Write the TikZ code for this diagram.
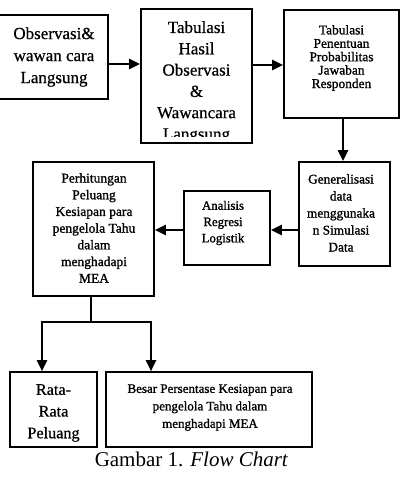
\documentclass[tikz,border=0pt]{standalone}
\usepackage{fontspec}
\setmainfont{Liberation Serif}
\newfontfamily\scanA[FakeBold=1.2]{Liberation Serif}
\newfontfamily\scanB[FakeBold=0.6]{Liberation Serif}
\usetikzlibrary{arrows.meta}
\begin{document}
\begin{tikzpicture}[x=1pt,y=1pt,
  bx/.style={draw, line width=1.6pt, inner sep=0pt, fill=none},
  txt/.style={align=center, inner sep=0pt},
  arr/.style={line width=2.4pt, -{Triangle[length=11pt,width=10pt]}},
  arrb/.style={line width=2pt, -{Triangle[length=11pt,width=10pt]}},
  ln/.style={line width=2pt}]
\fill[white] (0,0) rectangle (405,485);
\useasboundingbox (0,0) rectangle (405,485);

% boxes
\node[bx, minimum width=111pt, minimum height=84pt] (b1) at (52.5,428) {};
\node[bx, minimum width=111pt, minimum height=134pt] (b2) at (196.5,409) {};
\node[bx, minimum width=115pt, minimum height=108pt] (b3) at (341.5,421) {};
\node[bx, minimum width=91pt, minimum height=104pt] (gen) at (344.5,271) {};
\node[bx, minimum width=86pt, minimum height=74pt] (ana) at (227,257) {};
\node[bx, minimum width=121pt, minimum height=134pt] (per) at (93.5,256) {};
\node[bx, minimum width=87pt, minimum height=75pt] (rata) at (53.5,75.5) {};
\node[bx, minimum width=206pt, minimum height=75pt] (besar) at (209,75.5) {};

% texts
\node[txt, font=\scanB\fontsize{17}{22}\selectfont] (t1) at (54,428) {Observasi\&\\wawan cara\\Langsung};
\begin{scope}
\clip (142,348) rectangle (251,475);
\node[txt, anchor=north, font=\scanB\fontsize{17}{21.3}\selectfont] (t2) at (196.5,464) {Tabulasi\\Hasil\\Observasi\\\&\\Wawancara\\Langsung};
\end{scope}
\node[txt, font=\scanA\fontsize{13.4}{13.4}\selectfont] (t3) at (341.5,427) {Tabulasi\\Penentuan\\Probabilitas\\Jawaban\\Responden};
\node[txt, font=\scanA\fontsize{13.3}{17}\selectfont] (tg) at (341,272) {Generalisasi\\data\\menggunaka\\n Simulasi\\Data};
\node[txt, font=\scanA\fontsize{12.8}{16.3}\selectfont] (ta) at (223,262) {Analisis\\Regresi\\Logistik};
\node[txt, font=\scanA\fontsize{13.5}{16.7}\selectfont] (tp) at (94,257) {Perhitungan\\Peluang\\Kesiapan para\\pengelola Tahu\\dalam\\menghadapi\\MEA};
\node[txt, font=\scanB\fontsize{16.2}{21.7}\selectfont] (tr) at (53.5,72) {Rata-\\Rata\\Peluang};
\node[txt, font=\scanA\fontsize{13}{17.5}\selectfont] (tb) at (210,77.5) {Besar Persentase Kesiapan para\\pengelola Tahu dalam\\menghadapi MEA};
\node[inner sep=0pt, anchor=base, font=\fontsize{21}{25}\selectfont] (cap) at (191.5,18.5) {Gambar 1. \textit{Flow Chart}};

% connectors
\coordinate (y1) at (0,421);
\coordinate (y2) at (0,420);
\coordinate (x3) at (343,0);
\coordinate (y4) at (0,255);
\draw[arr] (b1.east |- y1) -- (b2.west |- y1);
\draw[arr] (b2.east |- y2) -- (b3.west |- y2);
\draw[arr] (b3.south -| x3) -- (gen.north -| x3);
\draw[arr] (gen.west |- y4) -- (ana.east |- y4);
\draw[arr] (ana.west |- y4) -- (per.east |- y4);
\coordinate (j) at (91,163);
\coordinate (jl) at (42,163);
\coordinate (jr) at (151,163);
\draw[ln] (per.south -| j) -- (j);
\draw[ln] ([xshift=-1pt]jl) -- ([xshift=1pt]jr);
\draw[arrb] (jl) -- (rata.north -| jl);
\draw[arrb] (jr) -- (besar.north -| jr);
\end{tikzpicture}
\end{document}
